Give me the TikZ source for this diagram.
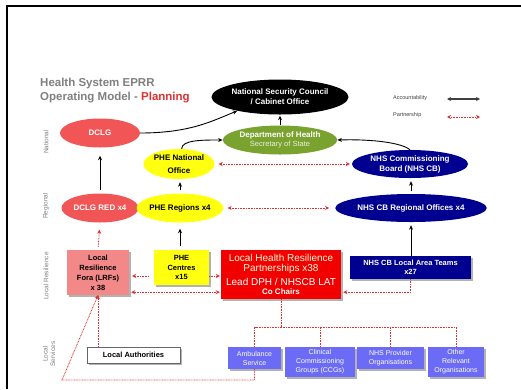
\documentclass[tikz,border=0pt]{standalone}
\usepackage{fontspec}
\setmainfont{Liberation Sans}
\usetikzlibrary{shapes.geometric,arrows.meta,shadows}
\definecolor{cred}{HTML}{F25555}
\definecolor{cpink}{HTML}{F28888}
\definecolor{cbred}{HTML}{F20000}
\definecolor{cyel}{HTML}{FFFF10}
\definecolor{cgreen}{HTML}{7AA22F}
\definecolor{cnavy}{HTML}{000090}
\definecolor{cpurp}{HTML}{6B6BF5}
\definecolor{cgray}{HTML}{808080}
\definecolor{cdot}{HTML}{E03030}
\begin{document}
\begin{tikzpicture}[x=1pt,y=-1pt,
  ell/.style={ellipse, inner sep=0pt, align=center, font=\bfseries\fontsize{8}{10}\selectfont},
  box/.style={rectangle, inner sep=0pt, align=center, drop shadow={shadow xshift=1.5pt, shadow yshift=-1.5pt, fill=black, opacity=0.3}},
  pbox/.style={box, fill=cpurp, text=white, font=\fontsize{7}{9}\selectfont},
  acc/.style={-{Stealth[length=4.5pt,width=4pt]}, line width=0.9pt, black},
  part/.style={cdot, line width=0.8pt, dash pattern=on 0.8pt off 0.8pt},
  ptip/.style={-{Stealth[length=4pt,width=4pt,cdot]}},
  rowlbl/.style={rotate=90, text=cgray, font=\fontsize{6.5}{7.5}\selectfont, align=center},
  legtxt/.style={font=\fontsize{5.5}{6.5}\selectfont, text=black!75, inner sep=0pt}
]
\useasboundingbox (0,0) rectangle (521,389);
\fill[white] (0,0) rectangle (521,389);
\draw[line width=2pt] (7,389) -- (7,5.5) -- (521,5.5);

% title
\node[anchor=west, inner sep=0pt, text=cgray, font=\bfseries\fontsize{11.5}{13}\selectfont] (t1) at (40,84) {Health System EPRR};
\node[anchor=west, inner sep=0pt, text=cgray, font=\bfseries\fontsize{11.5}{13}\selectfont] (t2) at (40,98) {Operating Model - \textcolor{cdot}{Planning}};

% legend
\node[legtxt, anchor=west] (lacc) at (393,98) {Accountability};
\node[legtxt, anchor=west] (lpart) at (393,115) {Partnership};
\coordinate (la1) at (447,99);
\coordinate (la2) at (480,99);
\coordinate (lp1) at (447,117);
\coordinate (lp2) at (480,117);
\draw[{Stealth[length=4pt,width=4pt]}-{Stealth[length=4pt,width=4pt]}, line width=1.2pt, black!75] (la1) -- (la2);
\draw[part, {Stealth[length=4pt,width=4pt,cdot]}-{Stealth[length=4pt,width=4pt,cdot]}] (lp1) -- (lp2);

% row labels
\node[rowlbl] (rnat) at (46,142) {National};
\node[rowlbl] (rreg) at (46,206) {Regional};
\node[rowlbl] (rlr) at (46,276) {Local Resilience};
\node[rowlbl] (rls) at (49,354) {Local\\Services};

% national
\node[ell, fill=black, text=white, minimum width=127pt, minimum height=35pt] (nsc) at (280,97) {National Security Council\\/ Cabinet Office};
\node[ell, fill=cgreen, text=white, minimum width=110pt, minimum height=29pt] (doh) at (280,140) {Department of Health\\[-1pt]{\mdseries\fontsize{7.5}{9}\selectfont\color{white!85!cgreen}Secretary of State}};
\node[ell, fill=cred, text=white, minimum width=80pt, minimum height=29pt] (dclg) at (100,133) {DCLG};
\node[ell, fill=cyel, text=black, minimum width=68pt, minimum height=30pt] (phenat) at (179,164) {PHE National\\[3pt]Office};
\node[ell, fill=cnavy, text=white, minimum width=116pt, minimum height=28pt] (nhscb) at (410,164) {NHS Commissioning\\Board (NHS CB)};

% regional
\node[ell, fill=cred, text=white, minimum width=77pt, minimum height=29pt] (dclgred) at (100,208) {DCLG RED x4};
\node[ell, fill=cyel, text=black, minimum width=73pt, minimum height=29pt] (phereg) at (180,208) {PHE Regions x4};
\node[ell, fill=cnavy, text=white, minimum width=121pt, minimum height=28pt] (nhscbro) at (411,208) {NHS CB Regional Offices x4};

% local resilience
\node[box, fill=cpink, text=black, minimum width=62pt, minimum height=45pt, font=\bfseries\fontsize{7.5}{10}\selectfont] (lrf) at (98,272.5) {Local\\Resilience\\Fora (LRFs)\\x 38};
\node[box, fill=cyel, text=black, minimum width=55pt, minimum height=35pt, font=\bfseries\fontsize{7.5}{9.5}\selectfont] (phec) at (181.5,267.5) {PHE\\Centres\\x15};
\node[box, fill=cbred, text=white, minimum width=120pt, minimum height=49pt, font=\fontsize{10}{10.5}\selectfont] (lhrp) at (281,274.5) {{\color{white!85!yellow}Local Health Resilience}\\{\color{white!85!yellow}Partnerships x38}\\[3pt]Lead DPH / NHSCB LAT\\[-1pt]{\bfseries\fontsize{8}{9}\selectfont Co Chairs}};
\node[box, fill=cnavy, text=white, minimum width=121pt, minimum height=23pt, font=\bfseries\fontsize{7.5}{9.5}\selectfont] (lat) at (410.5,267.5) {NHS CB Local Area Teams\\x27};

% local services
\node[box, fill=white, draw=black!60, line width=0.8pt, minimum width=93pt, minimum height=16pt, font=\bfseries\fontsize{7.5}{9}\selectfont] (la) at (133.5,355) {Local Authorities};
\node[pbox, minimum width=53pt, minimum height=22pt] (amb) at (254.5,358) {Ambulance\\Service};
\node[pbox, minimum width=70pt, minimum height=30pt] (ccg) at (320,362) {Clinical\\Commissioning\\Groups (CCGs)};
\node[pbox, minimum width=67pt, minimum height=22pt] (nhsp) at (390.5,358) {NHS Provider\\Organisations};
\node[pbox, minimum width=56pt, minimum height=30pt] (oth) at (456,362) {Other\\Relevant\\Organisations};

% accountability arrows
\draw[acc] (dclg.east) .. controls +(50,0) and +(-25,10) .. (nsc.198);
\draw[acc] (phenat.80) .. controls +(0,-9) and +(-20,0) .. (doh.west);
\draw[acc] (nhscb.north) .. controls +(-8,-7) and +(35,-1) .. (doh.east);
\draw[acc, shorten >=1pt] (doh.north) -- (nsc.south);
\draw[acc, shorten <=3pt, shorten >=8pt] (dclgred.north) -- (dclg.south);
\draw[acc, shorten <=3pt, shorten >=3pt] (phereg.north) -- (phereg.north |- phenat.south);
\draw[acc, shorten <=3pt, shorten >=3pt] (nhscbro.north) -- (nhscbro.north |- nhscb.south);
\draw[acc, shorten <=4pt, shorten >=6pt] (phec.north -| phereg.south) -- (phereg.south);
\draw[acc, shorten >=3pt] (lat.north -| nhscbro.south) -- (nhscbro.south);

% partnership arrows
\draw[part, {Stealth[length=4pt,width=4pt,cdot]}-{Stealth[length=4pt,width=4pt,cdot]}, shorten <=4pt, shorten >=2pt] (phenat.east) -- (nhscb.west);
\draw[part, {Stealth[length=4pt,width=4pt,cdot]}-{Stealth[length=4pt,width=4pt,cdot]}, shorten <=4pt, shorten >=6pt] (phereg.east) -- (nhscbro.west);
\draw[part, ptip, shorten <=3pt, shorten >=7pt] (lrf.north) -- (dclgred.south);
\draw[part, ptip, shorten <=5pt, shorten >=3pt] ([yshift=-8.5pt]phec.west) -- ([yshift=-8.5pt]phec.west -| lrf.east);
\draw[part, ptip, shorten >=1pt] ([yshift=-8.5pt]phec.east) -- ([yshift=-8.5pt]phec.east -| lhrp.west);
\draw[part, {Stealth[length=4pt,width=4pt,cdot]}-{Stealth[length=4pt,width=4pt,cdot]}, shorten <=2pt, shorten >=1pt] ([yshift=3pt]lrf.south east) -- ([yshift=3pt]lrf.south east -| lhrp.west);
\draw[part, ptip, shorten >=2pt] (lat.south) |- ([yshift=7pt]lhrp.south east);
\draw[part, ptip] (la.north -| lrf.south) -- (lrf.south);
\coordinate (bl) at (62,380);
\draw[part, ptip] (amb.south) |- (bl) -- (lrf.south);
\coordinate (bus) at (281,327);
\draw[part] (lhrp.south) -- (lhrp.south |- bus);
\draw[part] (amb.north) -- (amb.north |- bus) -- (oth.north |- bus) -- (oth.north);
\draw[part] (ccg.north) -- (ccg.north |- bus);
\draw[part] (nhsp.north) -- (nhsp.north |- bus);
\end{tikzpicture}
\end{document}
